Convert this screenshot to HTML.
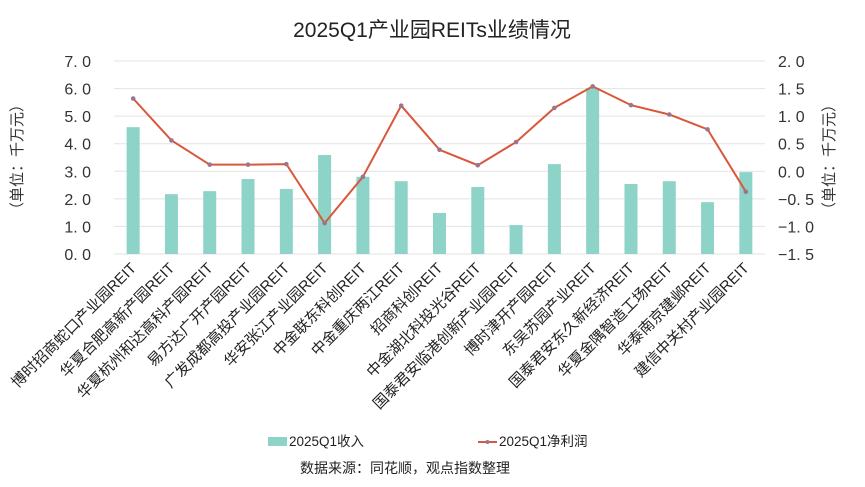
<!DOCTYPE html>
<html><head><meta charset="utf-8">
<style>
html,body{margin:0;padding:0;background:#fff;}
svg{display:block;font-family:"Liberation Sans","Noto Sans CJK SC",sans-serif;}
</style></head>
<body>
<svg id="chart" width="865" height="487" viewBox="0 0 865 487">
<text x="432" y="37" text-anchor="middle" font-size="21" fill="#222">2025Q1产业园REITs业绩情况</text>
<g id="grid"></g>
<g id="bars"></g>
<g id="line"></g>
<g id="yl"></g>
<g id="yr"></g>
<g id="xl"></g>
<text transform="translate(22,157) rotate(-90)" text-anchor="middle" font-size="15" fill="#333">（单位：千万元）</text>
<text transform="translate(834,157) rotate(-90)" text-anchor="middle" font-size="15" fill="#333">（单位：千万元）</text>
<g>
<rect x="268" y="437" width="19" height="9" fill="#8dd3c7"/>
<text x="289" y="446" font-size="13.5" fill="#222">2025Q1收入</text>
<line x1="478" y1="442" x2="497" y2="442" stroke="#d9573b" stroke-width="2"/>
<circle cx="487.5" cy="442" r="2" fill="#9a7590"/>
<text x="499" y="446" font-size="13.5" fill="#222">2025Q1净利润</text>
</g>
<text x="300" y="473" font-size="14" fill="#222">数据来源：同花顺，观点指数整理</text>
</svg>
<script>
const categories=["博时招商蛇口产业园REIT","华夏合肥高新产园REIT","华夏杭州和达高科产园REIT","易方达广开产园REIT","广发成都高投产业园REIT","华安张江产业园REIT","中金联东科创REIT","中金重庆两江REIT","招商科创REIT","中金湖北科投光谷REIT","国泰君安临港创新产业园REIT","博时津开产园REIT","东吴苏园产业REIT","国泰君安东久新经济REIT","华夏金隅智造工场REIT","华泰南京建邺REIT","建信中关村产业园REIT"];
const revenue=[4.6,2.17,2.28,2.72,2.36,3.59,2.8,2.64,1.49,2.43,1.05,3.26,6.02,2.54,2.64,1.88,2.97];
const profit=[1.32,0.56,0.12,0.12,0.13,-0.94,-0.1,1.19,0.39,0.11,0.53,1.15,1.54,1.2,1.03,0.76,-0.37];
const leftTicks=[0,1,2,3,4,5,6,7];
const rightTicks=[-1.5,-1.0,-0.5,0,0.5,1.0,1.5,2.0];
const NS="http://www.w3.org/2000/svg";
const X0=114,X1=765,Y0=254,Y1=61;
const step=(X1-X0)/categories.length;
const xC=i=>X0+step*(i+0.5);
const yL=v=>Y0-(v-0)/(7-0)*(Y0-Y1);
const yR=v=>Y0-(v+1.5)/(3.5)*(Y0-Y1);
function mk(tag,attrs,parent){const e=document.createElementNS(NS,tag);for(const k in attrs)e.setAttribute(k,attrs[k]);document.getElementById(parent).appendChild(e);return e;}
leftTicks.forEach(t=>{
 const g=mk('line',{x1:X0,x2:X1,y1:yL(t),y2:yL(t),stroke:'#e3e3e3','stroke-width':1},'grid');
 
 
 const tx=mk('text',{x:91,y:yL(t)+6,'text-anchor':'end','font-size':16,fill:'#333'},'yl');
 tx.textContent=t.toFixed(1).replace('.','. ');
 
 
});
rightTicks.forEach(t=>{
 const tx=mk('text',{x:778,y:yR(t)+6,'font-size':16,fill:'#333'},'yr');
 tx.textContent=(t<0?'−':'')+Math.abs(t).toFixed(1).replace('.','. ');
 
 
});
revenue.forEach((v,i)=>{
 const w=13;
 const r=mk('rect',{x:xC(i)-w/2,y:yL(v),width:w,height:Y0-yL(v),fill:'#8dd3c7'},'bars');
 
 
});
const pts=profit.map((v,i)=>xC(i)+','+yR(v)).join(' ');
const pl=mk('polyline',{points:pts,fill:'none',stroke:'#d9573b','stroke-width':2},'line');


profit.forEach((v,i)=>{
 const c=mk('circle',{cx:xC(i),cy:yR(v),r:2.3,fill:'#9a7590'},'line');
 
 
});
categories.forEach((c,i)=>{
 const x=xC(i)+4,y=Y0+15;
 const t=mk('text',{x:x,y:y,'text-anchor':'end','font-size':15,fill:'#222',transform:`rotate(-45 ${x} ${y})`},'xl');
 t.textContent=c;
 
 
});
</script>
</body></html>
